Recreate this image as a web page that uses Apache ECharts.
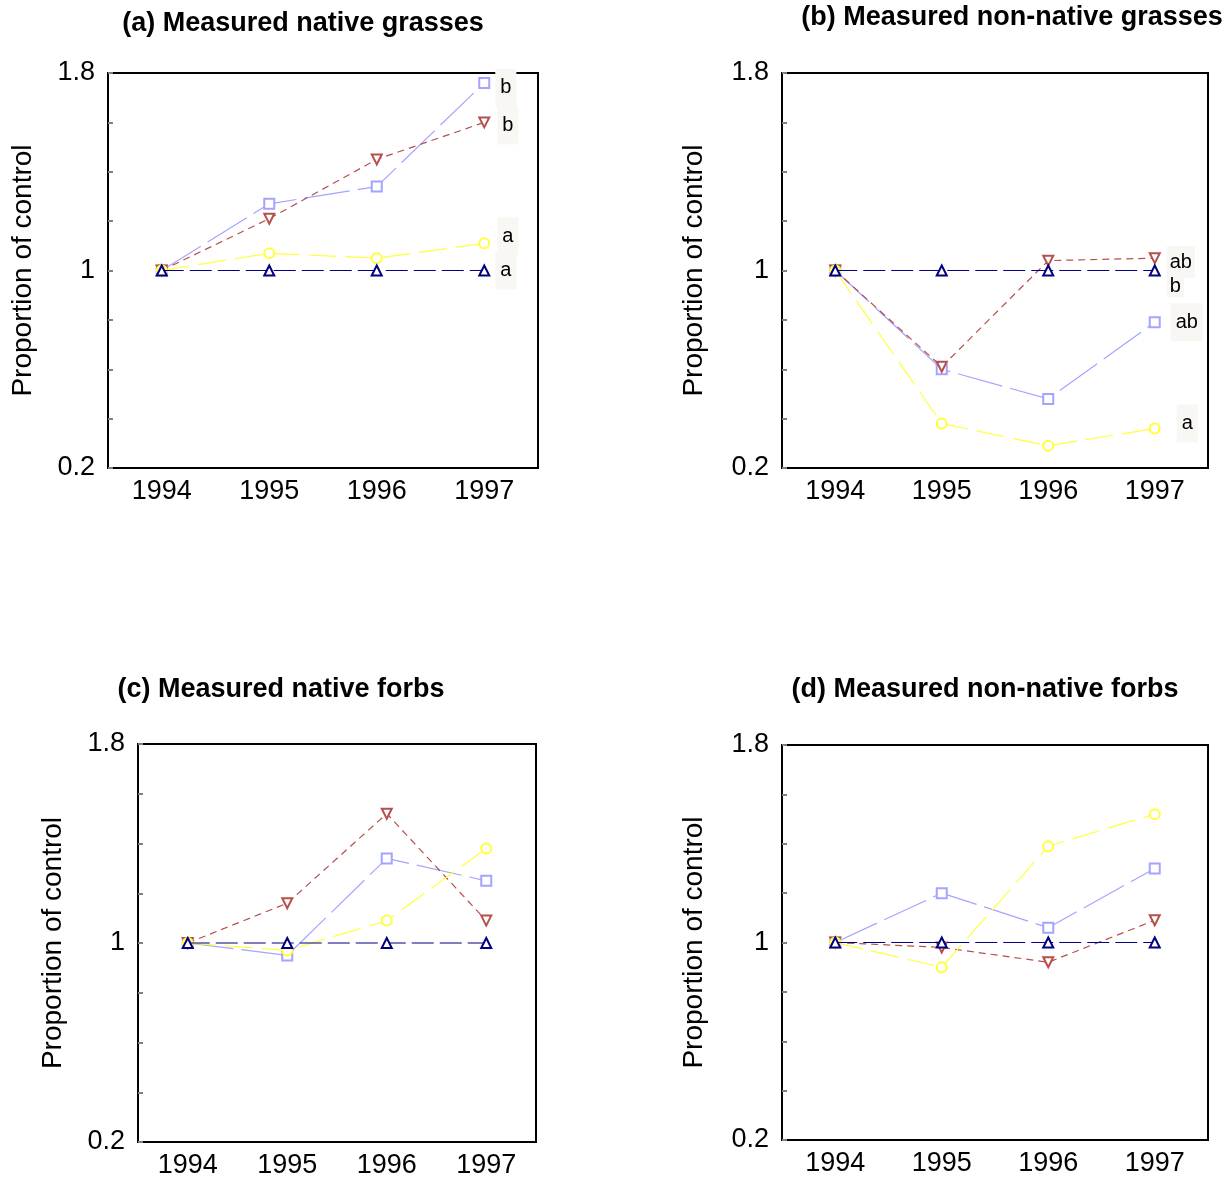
<!DOCTYPE html>
<html>
<head>
<meta charset="utf-8">
<script src="https://cdn.jsdelivr.net/npm/echarts@6/dist/echarts.min.js"></script>
<style>
  html, body { margin: 0; padding: 0; background: #fff; }
  #main { width: 1232px; height: 1180px; }
</style>
</head>
<body>
<div id="main"></div>
<script>
// years on the x axis, labelled y values
var years = ['1994', '1995', '1996', '1997'];
var yLabels = [0.2, 1, 1.8];

// (a) Measured native grasses
var aSquare = [1, 1.27, 1.34, 1.76];
var aDown   = [1, 1.21, 1.45, 1.60];
var aCircle = [1, 1.07, 1.05, 1.11];
var aUp     = [1, 1, 1, 1];
var aLetters = ['b', 'b', 'a', 'a'];

// (b) Measured non-native grasses
var bSquare = [1, 0.60, 0.48, 0.79];
var bDown   = [1, 0.61, 1.04, 1.05];
var bCircle = [1, 0.38, 0.29, 0.36];
var bUp     = [1, 1, 1, 1];
var bLetters = ['ab', 'ab', 'a', 'b'];

// (c) Measured native forbs
var cSquare = [1, 0.95, 1.34, 1.25];
var cDown   = [1, 1.16, 1.52, 1.09];
var cCircle = [1, 0.97, 1.09, 1.38];
var cUp     = [1, 1, 1, 1];

// (d) Measured non-native forbs
var dSquare = [1, 1.20, 1.06, 1.30];
var dDown   = [1, 0.98, 0.92, 1.09];
var dCircle = [1, 0.90, 1.39, 1.52];
var dUp     = [1, 1, 1, 1];

var titles = ['(a) Measured native grasses', '(b) Measured non-native grasses',
              '(c) Measured native forbs', '(d) Measured non-native forbs'];
var yName = 'Proportion of control';

var FONT = '"Liberation Sans", Arial, sans-serif';

//面板布局
var panels = [
  { grid: {left: 108, top: 73, width: 430, height: 395}, tx: 303, ty: 24, gap: 71,
    data: [aSquare, aDown, aCircle, aUp], letters: aLetters,
    offs: [[0, 5], [2, 3], [2, -7], [0, 0]],
    pads: [[9, 5], [9, 5], [9, 5], [9, 5]] },
  { grid: {left: 782, top: 73, width: 426, height: 395}, tx: 1012, ty: 18, gap: 74,
    data: [bSquare, bDown, bCircle, bUp], letters: bLetters,
    offs: [[5, 0], [1, 4], [11, -5], [1, 16]],
    pads: [[9, 5], [6, 3], [9, 5], [1, 3]] },
  { grid: {left: 138, top: 744, width: 398, height: 398}, tx: 281, ty: 690, gap: 71,
    data: [cSquare, cDown, cCircle, cUp], letters: null },
  { grid: {left: 782, top: 745, width: 426, height: 395}, tx: 985, ty: 690, gap: 74,
    data: [dSquare, dDown, dCircle, dUp], letters: null }
];

// 四种符号线型
var looks = [
  {symbol: 'emptyRect', rotate: 0, color: '#a4a4ff', dash: [46, 8]},
  {symbol: 'emptyTriangle', rotate: 180, color: '#b5504c', dash: [7, 5]},
  {symbol: 'emptyCircle', rotate: 0, color: '#ffff3a', dash: [28, 9]},
  {symbol: 'emptyTriangle', rotate: 0, color: '#000080', dash: [22, 6]}
];

var grids = [], xAxes = [], yAxes = [], series = [], graphics = [];

panels.forEach(function(p, k){
  grids.push(Object.assign({show: true, borderColor: '#000', borderWidth: 2,
    backgroundColor: 'transparent'}, p.grid));

  xAxes.push({
    type: 'category', gridIndex: k, data: years, boundaryGap: true,
    axisLine: {lineStyle: {color: '#000', width: 2}},
    axisTick: {inside: true, alignWithLabel: true, length: 5,
      lineStyle: {color: '#808080', width: 2}},
    axisLabel: {color: '#000', fontSize: 27, fontFamily: FONT, margin: 10},
    splitLine: {show: false}
  });

  yAxes.push({
    type: 'value', gridIndex: k, min: 0.2, max: 1.8, interval: 0.2,
    name: yName, nameLocation: 'middle', nameRotate: 90, nameGap: p.gap,
    nameTextStyle: {color: '#000', fontSize: 28, fontFamily: FONT},
    axisLine: {show: true, lineStyle: {color: '#000', width: 2}},
    axisTick: {show: true, inside: true, length: 5,
      lineStyle: {color: '#808080', width: 2}},
    axisLabel: {color: '#000', fontSize: 27, fontFamily: FONT, margin: 13,
      formatter: function(v){
        for (var i = 0; i < yLabels.length; i++) {
          if (Math.abs(yLabels[i] - v) < 1e-6) return String(yLabels[i]);
        }
        return '';
      }},
    splitLine: {show: false}
  });

  p.data.forEach(function(vals, s){
    var lk = looks[s];
    var pts = vals.map(function(v, i){
      if (i === vals.length - 1 && p.letters) {
        return {value: v, label: {show: true, formatter: p.letters[s],
          offset: p.offs[s], padding: p.pads[s]}};
      }
      return v;
    });
    series.push({
      type: 'line', xAxisIndex: k, yAxisIndex: k, data: pts,
      symbol: lk.symbol, symbolRotate: lk.rotate, symbolSize: 10,
      itemStyle: {color: lk.color, borderColor: lk.color, borderWidth: 1.2},
      lineStyle: {color: lk.color, width: 1.2, type: lk.dash},
      label: {show: false, position: 'right', distance: 5, color: '#000',
        fontSize: 20, fontFamily: FONT, backgroundColor: '#f8f7f4',
        padding: [9, 5]},
      emphasis: {disabled: true},
      z: 2 + s
    });
  });

  graphics.push({
    type: 'text', x: p.tx, y: p.ty,
    style: {text: titles[k], fill: '#000', fontSize: 27, fontWeight: 'bold',
      fontFamily: FONT, align: 'center', verticalAlign: 'middle'}
  });
});

var chart = echarts.init(document.getElementById('main'));
chart.setOption({
  animation: false,
  backgroundColor: '#fff',
  grid: grids,
  xAxis: xAxes,
  yAxis: yAxes,
  series: series,
  graphic: graphics
});
</script>
</body>
</html>
